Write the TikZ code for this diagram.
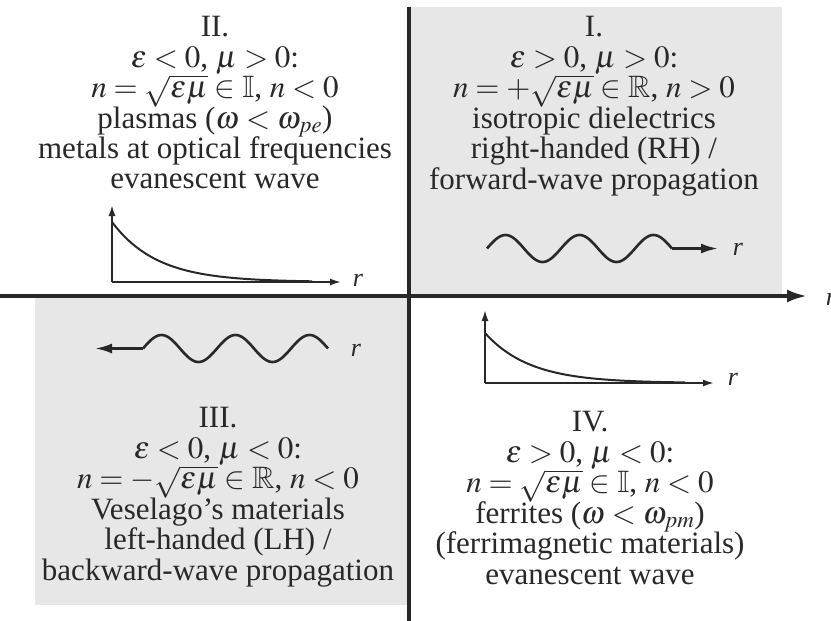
\documentclass[tikz,border=0pt]{standalone}
\usepackage{amssymb}
\usepackage{mathptmx}
\usepackage{fontspec}
\setmainfont{Liberation Serif}
\usetikzlibrary{arrows.meta}
\definecolor{qgray}{RGB}{231,231,231}
\definecolor{ink}{RGB}{40,40,40}
\begin{document}
\begin{tikzpicture}[x=1pt,y=-1pt,
  lbl/.style={align=center, anchor=north, inner sep=0pt, text=ink,
    font={\fontsize{31}{30.5}\selectfont\lineskiplimit=-100pt}},
  rlab/.style={text=ink, font={\fontsize{26}{26}\selectfont\itshape}, inner sep=0pt},
  mainaxis/.style={draw=ink, line width=3.5pt},
  smallaxis/.style={draw=ink, line width=1.8pt, -{Latex[length=11pt,width=7pt]}},
  wave/.style={draw=ink, line width=2.6pt},
  wavetip/.style={-{Latex[length=17pt,width=10pt]}},
  decay/.style={draw=ink, line width=2pt}
]
\useasboundingbox (0,0) rectangle (831,621);

% shaded quadrants
\fill[qgray] (409,7) rectangle (782,296);
\fill[qgray] (35,296) rectangle (409,605);

% main axes
\coordinate (hL) at (0,296);
\coordinate (hR) at (807,296);
\coordinate (vT) at (409,7);
\coordinate (vB) at (409,621);
\draw[mainaxis, -{Latex[length=20pt,width=13pt]}] (hL) -- (hR);
\draw[mainaxis] (vT) -- (vB);
\node[rlab] (rmain) at (831,299) {r};

% quadrant texts
\node[lbl] (q2) at (215,16) {II.\\
  $\varepsilon<0$, $\mu>0$:\\
  $n=\sqrt{\varepsilon\mu}\in\mathbb{I}$, $n<0$\\
  plasmas ($\omega<\omega_{pe}$)\\
  metals at optical frequencies\\
  evanescent wave};
\node[lbl] (q1) at (594,16) {I.\\
  $\varepsilon>0$, $\mu>0$:\\
  $n=+\sqrt{\varepsilon\mu}\in\mathbb{R}$, $n>0$\\
  isotropic dielectrics\\
  right-handed (RH) /\\
  forward-wave propagation};
\node[lbl] (q3) at (218,407) {III.\\
  $\varepsilon<0$, $\mu<0$:\\
  $n=-\sqrt{\varepsilon\mu}\in\mathbb{R}$, $n<0$\\
  Veselago’s materials\\
  left-handed (LH) /\\
  backward-wave propagation};
\node[lbl] (q4) at (590,411) {IV.\\
  $\varepsilon>0$, $\mu<0$:\\
  $n=\sqrt{\varepsilon\mu}\in\mathbb{I}$, $n<0$\\
  ferrites ($\omega<\omega_{pm}$)\\
  (ferrimagnetic materials)\\
  evanescent wave};

% quadrant I: forward wave
\coordinate (w1s) at (487,248.5);
\coordinate (w1e) at (672,248.5);
\coordinate (w1tip) at (718,248.5);
\draw[wave] plot[domain=0:185, samples=120, smooth] ({487+\x},{248.5-13.5*sin(\x/37*180)});
\draw[wave, wavetip] (w1e) -- (w1tip);
\node[rlab] (r1) at (738,249) {r};

% quadrant III: backward wave
\coordinate (w3s) at (143,348.5);
\coordinate (w3tip) at (95,348.5);
\draw[wave] plot[domain=0:185, samples=120, smooth] ({143+\x},{348.5-13.5*sin(\x/37*180)});
\draw[wave, wavetip] (w3s) -- (w3tip);
\node[rlab] (r3) at (356,350) {r};

% quadrant II: evanescent decay
\coordinate (o2) at (112,282);
\coordinate (y2) at (112,205);
\coordinate (x2) at (341,282);
\draw[smallaxis] (o2) -- (y2);
\draw[smallaxis] (o2) -- (x2);
\draw[decay] plot[domain=0:200, samples=60, smooth] ({112+\x},{282-60*exp(-\x/45)});
\node[rlab] (r2) at (358,280) {r};

% quadrant IV: evanescent decay
\coordinate (o4) at (485,383);
\coordinate (y4) at (485,310);
\coordinate (x4) at (714,383);
\draw[smallaxis] (o4) -- (y4);
\draw[smallaxis] (o4) -- (x4);
\draw[decay] plot[domain=0:200, samples=60, smooth] ({485+\x},{383-50*exp(-\x/45)});
\node[rlab] (r4) at (733,379) {r};
\end{tikzpicture}
\end{document}
